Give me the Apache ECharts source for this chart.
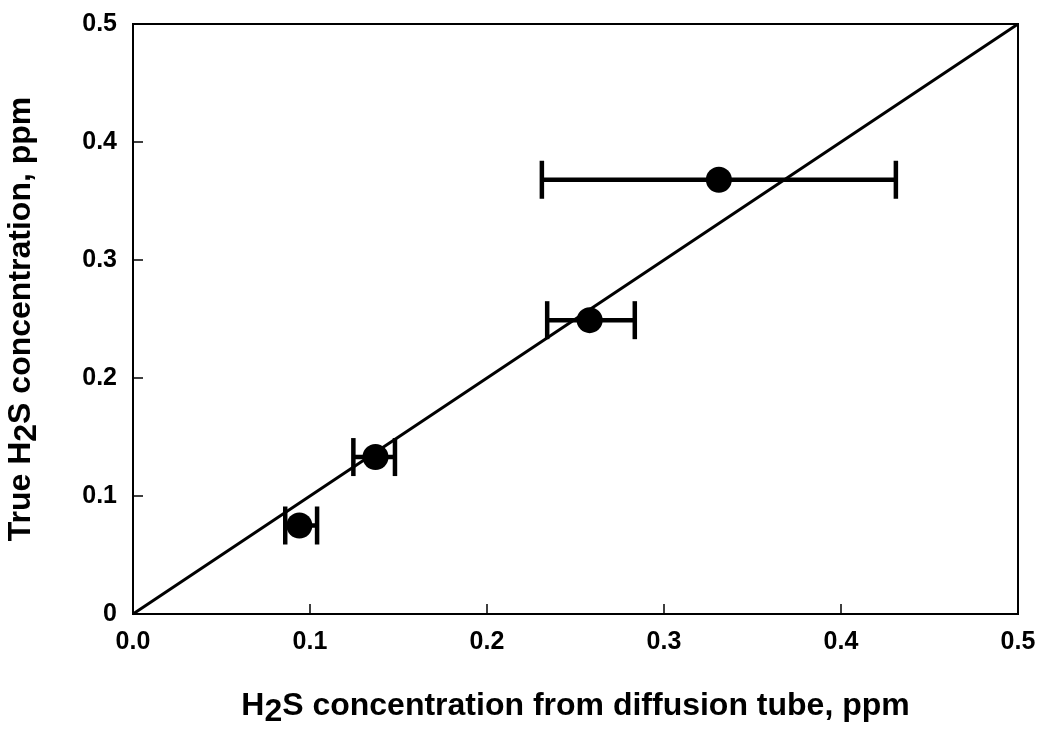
<!DOCTYPE html>
<html>
<head>
<meta charset="utf-8">
<script src="https://cdn.jsdelivr.net/npm/echarts@6/dist/echarts.min.js"></script>
<style>html,body{margin:0;padding:0;background:#fff;}#c{width:1050px;height:733px;}</style>
</head>
<body>
<div id="c"></div>
<script>
var xVals = [0.094, 0.137, 0.258, 0.331];
var yVals = [0.075, 0.133, 0.249, 0.368];
var xLo = [0.086, 0.1245, 0.234, 0.231];
var xHi = [0.104, 0.148, 0.2835, 0.431];
var refLineX = [0, 0.5];
var refLineY = [0, 0.5];
var xTitle = '{a|H}{s|2}{a|S concentration from diffusion tube, ppm}';
var yTitle = '{a|True H}{s|2}{a|S concentration, ppm}';

var pts = xVals.map(function(x, i){ return [x, yVals[i]]; });
var errData = xVals.map(function(x, i){ return [xLo[i], xHi[i], yVals[i]]; });
var lineData = refLineX.map(function(x, i){ return [x, refLineY[i]]; });

var font = 'Liberation Sans, Arial, sans-serif';
function richName(size){
  return {
    fontFamily: font, fontWeight: 'bold', fontSize: size, color: '#000',
    rich: {
      a: { fontFamily: font, fontWeight: 'bold', fontSize: size, color: '#000', lineHeight: 40, verticalAlign: 'top' },
      s: { fontFamily: font, fontWeight: 'bold', fontSize: size, color: '#000', lineHeight: 40, verticalAlign: 'top', padding: [6, 0, 0, 0] }
    }
  };
}
var chart = echarts.init(document.getElementById('c'));
chart.setOption({
  animation: false,
  backgroundColor: '#fff',
  grid: { left: 133, right: 32, top: 24, bottom: 119, containLabel: false, outerBoundsMode: 'none',
    show: true, borderColor: '#000', borderWidth: 2, backgroundColor: 'transparent' },
  xAxis: {
    type: 'value', min: 0, max: 0.5, interval: 0.1,
    name: xTitle, nameLocation: 'middle', nameGap: 76,
    nameTextStyle: richName(32),
    axisLine: { show: true, lineStyle: { color: '#000', width: 2 } },
    axisTick: { show: true, inside: true, length: 10, lineStyle: { color: '#000', width: 1.5 } },
    axisLabel: { margin: 16, fontFamily: font, fontWeight: 'bold', fontSize: 25, color: '#000',
      formatter: function(v){ return v.toFixed(1); } },
    splitLine: { show: false }
  },
  yAxis: {
    type: 'value', min: 0, max: 0.5, interval: 0.1,
    name: yTitle, nameLocation: 'middle', nameGap: 88,
    nameTextStyle: richName(32),
    axisLine: { show: true, lineStyle: { color: '#000', width: 2 } },
    axisTick: { show: true, inside: true, length: 10, lineStyle: { color: '#000', width: 1.5 } },
    axisLabel: { margin: 16, fontFamily: font, fontWeight: 'bold', fontSize: 25, color: '#000',
      formatter: function(v){ return v === 0 ? '0' : v.toFixed(1); } },
    splitLine: { show: false }
  },
  series: [
    {
      type: 'line', data: lineData, symbol: 'none',
      lineStyle: { color: '#000', width: 3 }, z: 2
    },
    {
      type: 'custom', data: errData, z: 3,
      renderItem: function(params, api){
        var lo = api.coord([api.value(0), api.value(2)]);
        var hi = api.coord([api.value(1), api.value(2)]);
        var h = 19;
        var st = { stroke: '#000', lineWidth: 4.5 };
        return { type: 'group', children: [
          { type: 'line', shape: { x1: lo[0], y1: lo[1], x2: hi[0], y2: hi[1] }, style: st },
          { type: 'line', shape: { x1: lo[0], y1: lo[1]-h, x2: lo[0], y2: lo[1]+h }, style: st },
          { type: 'line', shape: { x1: hi[0], y1: hi[1]-h, x2: hi[0], y2: hi[1]+h }, style: st }
        ]};
      }
    },
    {
      type: 'scatter', data: pts, symbol: 'circle', symbolSize: 26,
      itemStyle: { color: '#000', opacity: 1 }, z: 4
    }
  ]
});
</script>
</body>
</html>
